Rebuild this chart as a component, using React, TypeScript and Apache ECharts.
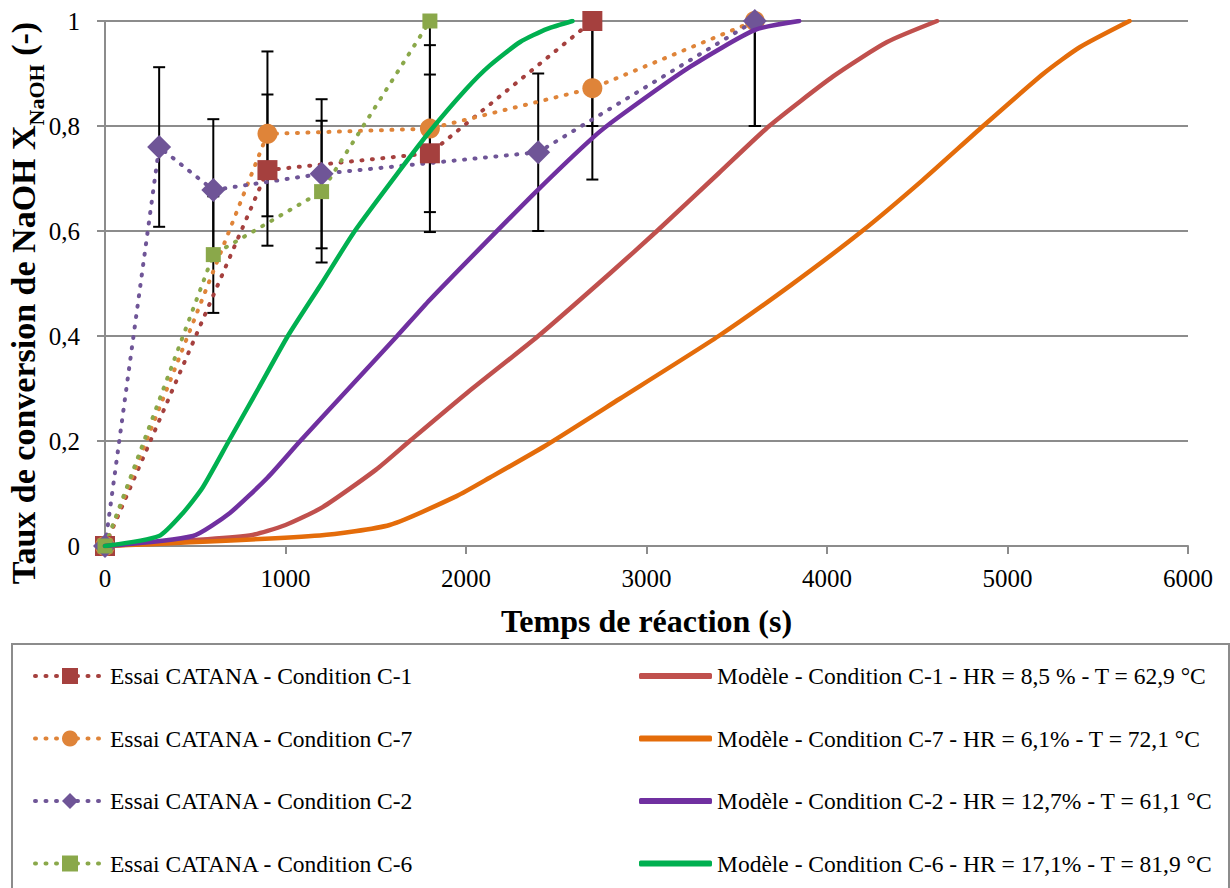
import React, { useEffect, useRef } from "react";
import * as echarts from "echarts";

// ---------- Data ----------
const essaiNames = [
  "Essai CATANA - Condition C-1",
  "Essai CATANA - Condition C-7",
  "Essai CATANA - Condition C-2",
  "Essai CATANA - Condition C-6",
];
const modelNames = [
  "Modèle - Condition C-1 - HR = 8,5 % - T = 62,9 °C",
  "Modèle - Condition C-7 - HR = 6,1% - T = 72,1 °C",
  "Modèle - Condition C-2 - HR = 12,7% - T = 61,1 °C",
  "Modèle - Condition C-6 - HR = 17,1% - T = 81,9 °C",
];

// Experimental points (time s, conversion) and error half-widths
const c1Time = [0, 900, 1800, 2700];
const c1Conv = [0, 0.716, 0.748, 1.0];
const c1Err = [0, 0.144, 0.15, 0.2];

const c7Time = [0, 900, 1800, 2700, 3600];
const c7Conv = [0, 0.785, 0.795, 0.872, 1.0];
const c7Err = [0, 0.157, 0.159, 0.174, 0.2];

const c2Time = [0, 300, 600, 1200, 2400, 3600];
const c2Conv = [0, 0.76, 0.678, 0.709, 0.75, 1.0];
const c2Err = [0, 0.152, 0.135, 0.142, 0.15, 0.2];

const c6Time = [0, 600, 1200, 1800];
const c6Conv = [0, 0.555, 0.675, 1.0];
const c6Err = [0, 0.111, 0.135, 0.2];

// Model curves
const m1Time = [0, 800, 1000, 1206, 1500, 1688, 2000, 2400, 2800, 3058, 3400, 3680, 4036, 4333, 4610];
const m1Conv = [0, 0.02, 0.04, 0.074, 0.145, 0.2, 0.29, 0.4, 0.52, 0.6, 0.71, 0.8, 0.895, 0.96, 1.0];

const m7Time = [0, 1190, 1577, 1948, 2131, 2435, 2850, 3400, 3800, 4195, 4530, 4865, 5200, 5400, 5676];
const m7Conv = [0, 0.02, 0.04, 0.095, 0.13, 0.19, 0.28, 0.4, 0.497, 0.6, 0.697, 0.8, 0.9, 0.95, 1.0];

const m2Time = [0, 487, 692, 900, 1079, 1350, 1616, 1800, 2100, 2397, 2700, 2850, 3243, 3601, 3846];
const m2Conv = [0, 0.019, 0.063, 0.13, 0.199, 0.3, 0.399, 0.469, 0.575, 0.678, 0.777, 0.818, 0.913, 0.983, 1.0];

const m6Time = [0, 299, 432, 542, 686, 850, 1013, 1200, 1384, 1632, 1800, 2000, 2131, 2300, 2450, 2590];
const m6Conv = [0, 0.019, 0.063, 0.112, 0.2, 0.3, 0.4, 0.5, 0.6, 0.715, 0.79, 0.87, 0.915, 0.96, 0.985, 1.0];

const xTicks = { min: 0, max: 6000, interval: 1000 };
const yTicks = { min: 0, max: 1, interval: 0.2 };

// ---------- Styles ----------
const FONT = "Liberation Serif";
const essaiColors = ["#A5403E", "#DF8439", "#6F5597", "#8AA84A"];
const modelColors = ["#C0504D", "#E46C0A", "#7030A0", "#00B050"];
const GRID_GRAY = "#8C8C8C";
const DOTS: number[] = [1, 9.5];

const zip = (a: number[], b: number[]) => a.map((v, i) => [v, b[i]]);

export default function App() {
  const ref = useRef<HTMLDivElement>(null);
  useEffect(() => {
    if (!ref.current) return;
    const chart = echarts.init(ref.current, undefined, { renderer: "svg" });

    const essai = [
      { t: c1Time, c: c1Conv, e: c1Err, symbol: "rect", size: 20 },
      { t: c7Time, c: c7Conv, e: c7Err, symbol: "circle", size: 20 },
      { t: c2Time, c: c2Conv, e: c2Err, symbol: "diamond", size: 24 },
      { t: c6Time, c: c6Conv, e: c6Err, symbol: "rect", size: 15 },
    ];
    const models = [
      { t: m1Time, c: m1Conv },
      { t: m7Time, c: m7Conv },
      { t: m2Time, c: m2Conv },
      { t: m6Time, c: m6Conv },
    ];

    const errorSeries = essai.map((s, k) => ({
      type: "custom",
      name: "err" + k,
      z: 1,
      silent: true,
      data: s.t.map((x, i) => [x, s.c[i] - s.e[i], s.c[i] + s.e[i]]),
      renderItem: (params: any, api: any) => {
        const x = api.value(0);
        const lo = api.value(1);
        const hi = api.value(2);
        if (hi - lo <= 0) return null;
        const clippedHi = Math.min(hi, yTicks.max);
        const top = api.coord([x, clippedHi]);
        const bot = api.coord([x, lo]);
        const style = { stroke: "#000", lineWidth: 2 };
        const children: any[] = [
          { type: "line", shape: { x1: top[0], y1: top[1], x2: bot[0], y2: bot[1] }, style },
          { type: "line", shape: { x1: bot[0] - 6, y1: bot[1], x2: bot[0] + 6, y2: bot[1] }, style },
        ];
        if (hi <= yTicks.max) {
          children.push({ type: "line", shape: { x1: top[0] - 6, y1: top[1], x2: top[0] + 6, y2: top[1] }, style });
        }
        return { type: "group", children };
      },
    }));

    const essaiSeries = essai.map((s, k) => ({
      type: "line",
      name: essaiNames[k],
      z: 2,
      data: zip(s.t, s.c),
      symbol: s.symbol,
      symbolSize: s.size,
      showSymbol: true,
      clip: false,
      itemStyle: { color: essaiColors[k], opacity: 1 },
      lineStyle: { color: essaiColors[k], width: 4, type: DOTS, cap: "round" },
    }));

    const modelSeries = models.map((m, k) => ({
      type: "line",
      name: modelNames[k],
      z: 3,
      data: zip(m.t, m.c),
      smooth: 0.2,
      symbol: "none",
      showSymbol: false,
      itemStyle: { color: modelColors[k] },
      lineStyle: { color: modelColors[k], width: 4.5, cap: "round", join: "round" },
    }));

    const legendText = { fontFamily: FONT, fontSize: 23.5, color: "#000" };

    chart.setOption({
      animation: false,
      backgroundColor: "#fff",
      grid: { left: 105, top: 21, width: 1083, height: 525, outerBoundsMode: "none" },
      xAxis: {
        type: "value",
        min: xTicks.min,
        max: xTicks.max,
        interval: xTicks.interval,
        name: "Temps de réaction (s)",
        nameLocation: "middle",
        nameGap: 59,
        nameTextStyle: { fontFamily: FONT, fontWeight: "bold", fontSize: 32, color: "#000" },
        axisLine: { show: true, lineStyle: { color: GRID_GRAY, width: 2 } },
        axisTick: { show: true, length: 8, lineStyle: { color: GRID_GRAY, width: 2 } },
        axisLabel: {
          fontFamily: FONT,
          fontSize: 25,
          color: "#000",
          margin: 20,
          formatter: (v: number) => String(v),
        },
        splitLine: { show: false },
      },
      yAxis: {
        type: "value",
        min: yTicks.min,
        max: yTicks.max,
        interval: yTicks.interval,
        axisLine: { show: true, lineStyle: { color: GRID_GRAY, width: 2 } },
        axisTick: { show: true, length: 8, lineStyle: { color: GRID_GRAY, width: 2 } },
        axisLabel: {
          fontFamily: FONT,
          fontSize: 25,
          color: "#000",
          margin: 25,
          formatter: (v: number) => String(Number(v.toFixed(1))).replace(".", ","),
        },
        splitLine: { show: true, lineStyle: { color: GRID_GRAY, width: 2 } },
      },
      legend: [
        {
          left: 28,
          top: 659,
          orient: "vertical",
          itemWidth: 70,
          itemHeight: 20,
          itemGap: 38.5,
          data: essaiNames,
          textStyle: legendText,
          selectedMode: false,
          lineStyle: { width: 4, type: DOTS, cap: "round" },
        },
        {
          left: 634,
          top: 659,
          orient: "vertical",
          itemWidth: 73,
          itemHeight: 6,
          itemGap: 38.5,
          icon: "roundRect",
          data: modelNames,
          textStyle: legendText,
          selectedMode: false,
        },
      ],
      graphic: [
        {
          type: "rect",
          shape: { x: 12, y: 644, width: 1217, height: 280 },
          style: { fill: "none", stroke: GRID_GRAY, lineWidth: 2 },
          silent: true,
        },
        {
          type: "text",
          x: 27,
          y: 303,
          rotation: Math.PI / 2,
          silent: true,
          style: {
            text: "{m|Taux de conversion de NaOH X}{s|NaOH}{m| (-)}",
            align: "center",
            verticalAlign: "middle",
            fill: "#000",
            font: "bold 34px 'Liberation Serif'",
            rich: {
              m: { fontFamily: FONT, fontWeight: "bold", fontSize: 34, fill: "#000", verticalAlign: "bottom", padding: [0, 0, 7, 0] },
              s: { fontFamily: FONT, fontWeight: "bold", fontSize: 22, fill: "#000", verticalAlign: "bottom" },
            },
          },
        },
      ],
      series: [...errorSeries, ...essaiSeries, ...modelSeries],
    });

    return () => chart.dispose();
  }, []);

  return (
    <div
      ref={ref}
      style={{ position: "absolute", left: 0, top: 0, width: 1230, height: 888, background: "#fff" }}
    />
  );
}
